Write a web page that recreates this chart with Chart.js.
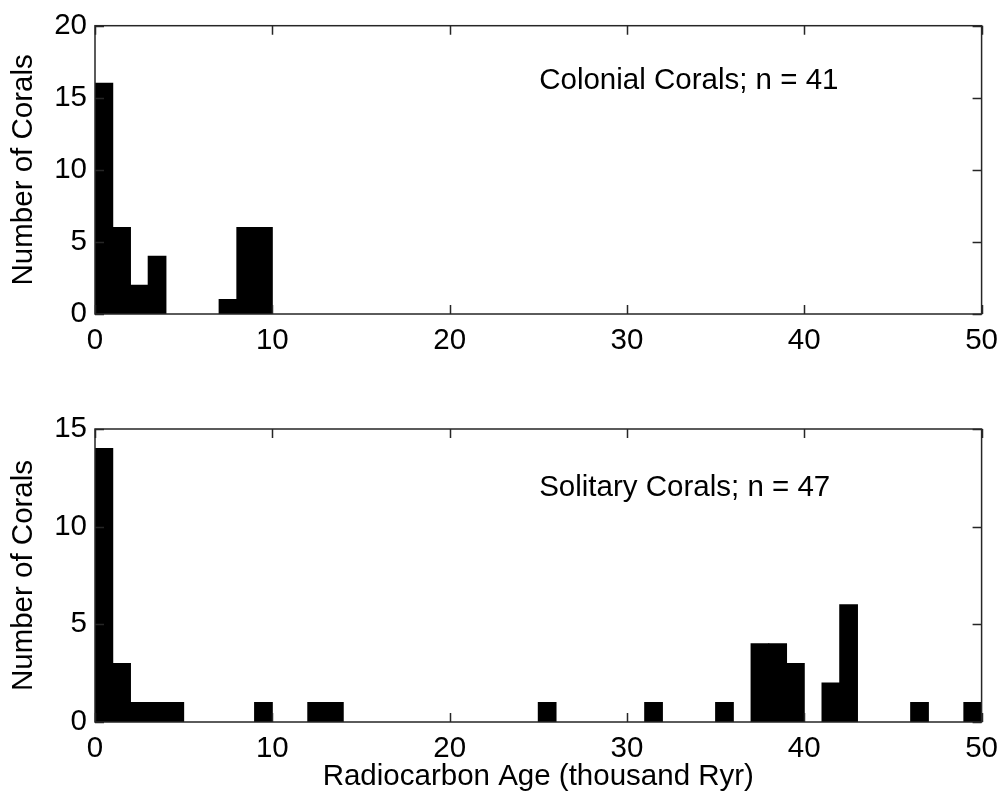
<!DOCTYPE html>
<html>
<head>
<meta charset="utf-8">
<script src="https://cdn.jsdelivr.net/npm/chart.js@4/dist/chart.umd.min.js"></script>
<style>
  html, body { margin: 0; padding: 0; background: #ffffff; }
  .panel { position: absolute; left: 0; width: 1007px; height: 400px; }
</style>
</head>
<body>
<div class="panel" style="top:0px"><canvas id="c1"></canvas></div>
<div class="panel" style="top:400px"><canvas id="c2"></canvas></div>
<script>
// Bin centres (thousand years), bin width 1
const binCenters = [0.5,1.5,2.5,3.5,4.5,5.5,6.5,7.5,8.5,9.5,
  10.5,11.5,12.5,13.5,14.5,15.5,16.5,17.5,18.5,19.5,
  20.5,21.5,22.5,23.5,24.5,25.5,26.5,27.5,28.5,29.5,
  30.5,31.5,32.5,33.5,34.5,35.5,36.5,37.5,38.5,39.5,
  40.5,41.5,42.5,43.5,44.5,45.5,46.5,47.5,48.5,49.5];

const colonialCounts = [16,6,2,4,0,0,0,1,6,6,
  0,0,0,0,0,0,0,0,0,0,
  0,0,0,0,0,0,0,0,0,0,
  0,0,0,0,0,0,0,0,0,0,
  0,0,0,0,0,0,0,0,0,0];

const solitaryCounts = [14,3,1,1,1,0,0,0,0,1,
  0,0,1,1,0,0,0,0,0,0,
  0,0,0,0,0,1,0,0,0,0,
  0,1,0,0,0,1,0,4,4,3,
  0,2,6,0,0,0,1,0,0,1];

const xTicks = [0,10,20,30,40,50];
const yTicksTop = [0,5,10,15,20];
const yTicksBottom = [0,5,10,15];

const topLabel = "Colonial Corals; n = 41";
const bottomLabel = "Solitary Corals; n = 47";
const yTitle = "Number of Corals";
const xTitle = "Radiocarbon Age (thousand Ryr)";

const FONT = "'Liberation Sans', Arial, Helvetica, sans-serif";
const FS = 29.5;

function toPoints(counts) {
  return binCenters.map((c, i) => ({ x: c, y: counts[i] === 0 ? null : counts[i] }));
}

const framePlugin = {
  id: 'frame',
  afterDraw(chart, args, opts) {
    const ctx = chart.ctx;
    const a = chart.chartArea;
    const xs = chart.scales.x, ys = chart.scales.y;
    ctx.save();
    ctx.strokeStyle = '#262626';
    ctx.lineWidth = 1.5;
    const L = 9;
    ctx.beginPath();
    xs.ticks.forEach(t => {
      const px = Math.round(xs.getPixelForValue(t.value)) + 0.5;
      ctx.moveTo(px, a.bottom); ctx.lineTo(px, a.bottom - L);
      ctx.moveTo(px, a.top); ctx.lineTo(px, a.top + L);
    });
    ys.ticks.forEach(t => {
      const py = Math.round(ys.getPixelForValue(t.value)) + 0.5;
      ctx.moveTo(a.left, py); ctx.lineTo(a.left + L, py);
      ctx.moveTo(a.right, py); ctx.lineTo(a.right - L, py);
    });
    ctx.stroke();
    ctx.strokeRect(a.left, a.top, a.right - a.left, a.bottom - a.top);
    // annotation text
    ctx.fillStyle = '#000';
    ctx.font = FS + 'px ' + FONT;
    ctx.textBaseline = 'alphabetic';
    ctx.textAlign = 'left';
    ctx.fillText(opts.text, xs.getPixelForValue(opts.x), ys.getPixelForValue(opts.y));
    ctx.restore();
  }
};

function makeChart(id, counts, yMax, yStep, topPad, xAxisHeight, showXTitle, label, labelY) {
  return new Chart(document.getElementById(id), {
    type: 'bar',
    data: {
      datasets: [{
        data: toPoints(counts),
        backgroundColor: '#000000',
        borderWidth: 0,
        inflateAmount: 0.5,
        barPercentage: 1.0,
        categoryPercentage: 1.0
      }]
    },
    options: {
      responsive: true,
      maintainAspectRatio: false,
      animation: false,
      events: [],
      layout: { padding: { top: topPad, right: 23, left: 0, bottom: 0 } },
      plugins: {
        legend: { display: false },
        tooltip: { enabled: false },
        frame: { text: label, x: 25.05, y: labelY }
      },
      scales: {
        x: {
          type: 'linear',
          offset: false,
          min: 0, max: 50,
          grid: { display: false, drawTicks: false },
          border: { display: false },
          ticks: {
            stepSize: 10,
            padding: 9,
            color: '#000',
            font: { family: FONT, size: FS },
            maxRotation: 0,
            autoSkip: false
          },
          title: {
            display: showXTitle,
            text: xTitle,
            color: '#000',
            font: { family: FONT, size: FS, lineHeight: 1 },
            padding: { top: 0, bottom: 8 }
          },
          afterFit(scale) { scale.height = xAxisHeight; }
        },
        y: {
          min: 0, max: yMax,
          grid: { display: false, drawTicks: false },
          border: { display: false },
          ticks: {
            stepSize: yStep,
            padding: 8,
            color: '#000',
            font: { family: FONT, size: FS }
          },
          title: {
            display: true,
            text: yTitle,
            color: '#000',
            font: { family: FONT, size: FS, lineHeight: 1 },
            padding: { top: 9, bottom: 0 }
          },
          afterFit(scale) { scale.width = 95; }
        }
      }
    },
    plugins: [framePlugin]
  });
}

makeChart('c1', colonialCounts, yTicksTop[yTicksTop.length - 1], 5, 21, 86, false, topLabel, 15.6);
makeChart('c2', solitaryCounts, yTicksBottom[yTicksBottom.length - 1], 5, 29, 78, true, bottomLabel, 11.55);
</script>
</body>
</html>
